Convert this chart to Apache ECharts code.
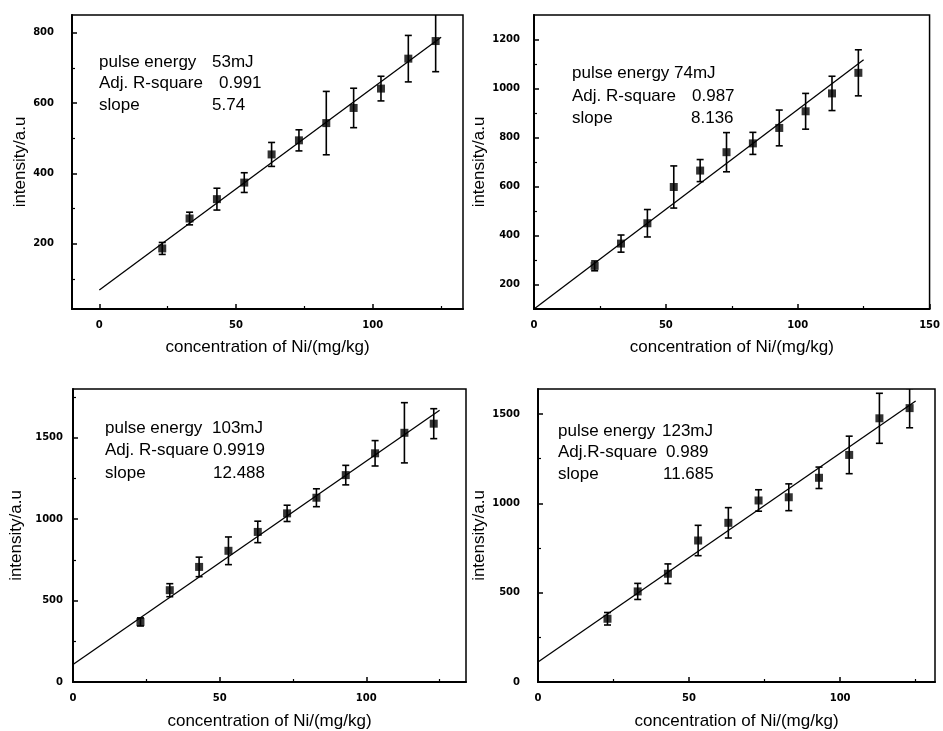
<!DOCTYPE html>
<html>
<head>
<meta charset="utf-8">
<script src="https://cdn.jsdelivr.net/npm/echarts@6/dist/echarts.min.js"></script>
<style>
  html, body { margin: 0; padding: 0; background: #fff; }
  #chart { width: 943px; height: 731px; }
</style>
</head>
<body>
<div id="chart"></div>
<script>
// concentrations of Ni (mg/kg), shared by all four panels
const conc = [23, 33, 43, 53, 63, 73, 83, 93, 103, 113, 123];

// 53 mJ
const int53 = [187, 272, 327, 374, 454, 494, 543, 586, 641, 726, 776];
const err53 = [17, 18, 31, 28, 34, 30, 90, 56, 35, 66, 87];
const fit53 = [[0, 69], [125, 787]];

// 74 mJ
const int74 = [276, 367, 450, 598, 665, 740, 776, 839, 907, 980, 1064];
const err74 = [20, 35, 56, 86, 45, 80, 45, 73, 73, 70, 94];
const fit74 = [[0, 100], [125, 1117]];

// 103 mJ
const int103 = [369, 564, 707, 806, 922, 1036, 1132, 1271, 1405, 1531, 1587];
const err103 = [25, 40, 60, 85, 66, 50, 55, 60, 78, 185, 92];
const fit103 = [[0, 108], [125, 1669]];

// 123 mJ
const int123 = [354, 507, 606, 792, 891, 1016, 1034, 1143, 1271, 1476, 1533];
const err123 = [35, 45, 55, 85, 85, 60, 75, 60, 105, 140, 110];
const fit123 = [[0, 112], [125, 1573]];

// tick labels
const xTicks = [[0, 50, 100], [0, 50, 100, 150], [0, 50, 100], [0, 50, 100]];
const xMinor = [[25, 75, 125], [25, 75, 125], [25, 75, 125], [25, 75, 125]];
const yTicks = [[200, 400, 600, 800], [200, 400, 600, 800, 1000, 1200], [0, 500, 1000, 1500], [0, 500, 1000, 1500]];
const yMinor = [[100, 300, 500, 700], [300, 500, 700, 900, 1100], [250, 750, 1250, 1750], [250, 750, 1250]];

const texts = [
  ['pulse energy', '53mJ', 'Adj. R-square', '0.991', 'slope', '5.74'],
  ['pulse energy', '74mJ', 'Adj. R-square', '0.987', 'slope', '8.136'],
  ['pulse energy', '103mJ', 'Adj. R-square', '0.9919', 'slope', '12.488'],
  ['pulse energy', '123mJ', 'Adj.R-square', '0.989', 'slope', '11.685']
];

const panels = [
  { ys: int53, es: err53, fit: fit53, grid: { left: 72, top: 15, width: 391, height: 294 },
    x: [-10, 133], y: [15, 850], yLabMargin: 18, yNameGap: 40, xNameGap: 30,
    tx: 99, vx: [212, 219, 212], ty: [62, 83, 105] },
  { ys: int74, es: err74, fit: fit74, grid: { left: 534, top: 15, width: 397, height: 294 },
    x: [0, 150], y: [100, 1300], yLabMargin: 14, yNameGap: 42, xNameGap: 30,
    tx: 572, vx: [674, 692, 691], ty: [73, 96, 118] },
  { ys: int103, es: err103, fit: fit103, grid: { left: 73, top: 389, width: 393, height: 293 },
    x: [0, 134], y: [0, 1800], yLabMargin: 10, yNameGap: 48, xNameGap: 31,
    tx: 105, vx: [212, 213, 213], ty: [428, 450, 473] },
  { ys: int123, es: err123, fit: fit123, grid: { left: 538, top: 389, width: 397, height: 293 },
    x: [0, 131.4], y: [0, 1640], yLabMargin: 18, yNameGap: 50, xNameGap: 31,
    tx: 558, vx: [662, 666, 663], ty: [431, 452, 474] }
];

const tickFont = { fontFamily: 'DejaVu Sans', fontWeight: 'bold', fontSize: 10, color: '#000', formatter: v => String(v) };
const nameFont = { fontFamily: 'Liberation Sans', fontSize: 17, color: '#000' };

const grids = [], xAxes = [], yAxes = [], series = [], graphics = [];

panels.forEach((p, i) => {
  grids.push(Object.assign({ show: true, borderColor: '#000', borderWidth: 1.5 }, p.grid));

  // major axes
  xAxes.push({
    gridIndex: i, type: 'value', min: p.x[0], max: p.x[1],
    name: 'concentration of Ni/(mg/kg)', nameLocation: 'middle', nameGap: p.xNameGap, nameTextStyle: nameFont,
    axisLine: { show: true, onZero: false, lineStyle: { color: '#000', width: 2 } },
    axisTick: { show: true, inside: true, length: 5, customValues: xTicks[i], lineStyle: { color: '#000', width: 1.5 } },
    axisLabel: Object.assign({ customValues: xTicks[i], margin: 11 }, tickFont),
    splitLine: { show: false }
  });
  yAxes.push({
    gridIndex: i, type: 'value', min: p.y[0], max: p.y[1],
    name: 'intensity/a.u', nameLocation: 'middle', nameGap: p.yNameGap, nameTextStyle: nameFont,
    axisLine: { show: true, onZero: false, lineStyle: { color: '#000', width: 2 } },
    axisTick: { show: true, inside: true, length: 5, customValues: yTicks[i], lineStyle: { color: '#000', width: 1.5 } },
    axisLabel: Object.assign({ customValues: yTicks[i], margin: p.yLabMargin }, tickFont),
    splitLine: { show: false }
  });
  // minor tick axes
  xAxes.push({
    gridIndex: i, type: 'value', min: p.x[0], max: p.x[1], position: 'bottom',
    axisLine: { show: false, onZero: false },
    axisTick: { show: true, inside: true, length: 3, customValues: xMinor[i], lineStyle: { color: '#000', width: 1.2 } },
    axisLabel: { show: false }, splitLine: { show: false }
  });
  yAxes.push({
    gridIndex: i, type: 'value', min: p.y[0], max: p.y[1], position: 'left',
    axisLine: { show: false, onZero: false },
    axisTick: { show: true, inside: true, length: 3, customValues: yMinor[i], lineStyle: { color: '#000', width: 1.2 } },
    axisLabel: { show: false }, splitLine: { show: false }
  });

  const xi = 2 * i, yi = 2 * i;

  series.push({
    type: 'line', xAxisIndex: xi, yAxisIndex: yi, data: p.fit, symbol: 'none', clip: true,
    lineStyle: { color: '#000', width: 1.3 }, silent: true, animation: false
  });

  series.push({
    type: 'custom', xAxisIndex: xi, yAxisIndex: yi, clip: true, animation: false,
    data: conc.map((c, k) => [c, p.ys[k] - p.es[k], p.ys[k] + p.es[k]]),
    renderItem: (params, api) => {
      const lo = api.coord([api.value(0), api.value(1)]);
      const hi = api.coord([api.value(0), api.value(2)]);
      const w = 3.5;
      const st = { stroke: '#000', lineWidth: 1.6 };
      return {
        type: 'group',
        children: [
          { type: 'line', shape: { x1: lo[0], y1: lo[1], x2: hi[0], y2: hi[1] }, style: st },
          { type: 'line', shape: { x1: lo[0] - w, y1: lo[1], x2: lo[0] + w, y2: lo[1] }, style: st },
          { type: 'line', shape: { x1: hi[0] - w, y1: hi[1], x2: hi[0] + w, y2: hi[1] }, style: st }
        ]
      };
    }
  });

  series.push({
    type: 'scatter', xAxisIndex: xi, yAxisIndex: yi, animation: false,
    data: conc.map((c, k) => [c, p.ys[k]]),
    symbol: 'rect', symbolSize: 8, itemStyle: { color: '#000' }
  });

  const t = texts[i];
  for (let r = 0; r < 3; r++) {
    graphics.push({ type: 'text', x: p.tx, y: p.ty[r],
      style: { text: t[2 * r], font: '17px "Liberation Sans"', fill: '#000', verticalAlign: 'middle' } });
    graphics.push({ type: 'text', x: p.vx[r], y: p.ty[r],
      style: { text: t[2 * r + 1], font: '17px "Liberation Sans"', fill: '#000', verticalAlign: 'middle' } });
  }
});

const chart = echarts.init(document.getElementById('chart'), null, { renderer: 'canvas' });
chart.setOption({
  backgroundColor: '#fff',
  animation: false,
  grid: grids,
  xAxis: xAxes,
  yAxis: yAxes,
  series: series,
  graphic: graphics
});
</script>
</body>
</html>
